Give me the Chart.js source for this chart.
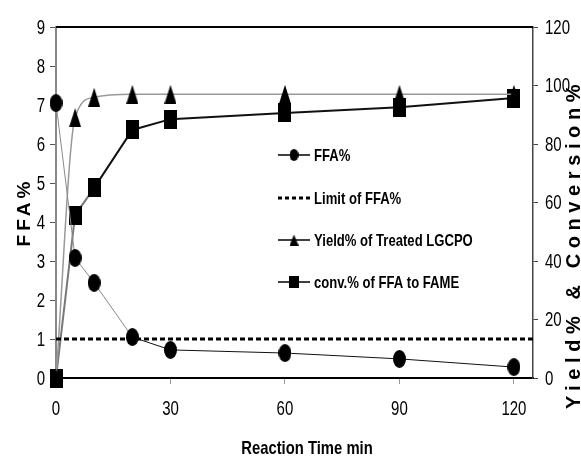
<!DOCTYPE html>
<html>
<head>
<meta charset="utf-8">
<script src="https://cdn.jsdelivr.net/npm/chart.js@4"></script>
<style>
  html, body { margin: 0; padding: 0; background: #fff; }
  #wrap { width: 581px; height: 461px; }
</style>
</head>
<body>
<div id="wrap"><canvas id="myChart" width="581" height="461"></canvas></div>
<script>
// data
const times = [0, 5, 10, 20, 30, 60, 90, 120];
const ffa = [7.05, 3.08, 2.44, 1.05, 0.72, 0.64, 0.49, 0.28];
const yieldPct = [0, 89, 96, 97, 97, 97, 97, 97];
const conv = [0, 55.7, 65, 84.8, 88.5, 90.6, 92.6, 95.7];
const limitTimes = [0, 125];
const limitFfa = [1, 1];
const xTicks = [0, 30, 60, 90, 120];
const legendLabels = ["FFA%", "Limit of FFA%", "Yield% of Treated LGCPO", "conv.% of FFA to FAME"];

const FONT = '"Liberation Sans", Arial, sans-serif';

const pts = (xs, ys) => xs.map((x, i) => ({ x: x, y: ys[i] }));

// marker images (the figure is squeezed sideways, so shapes are tall)
const marker = (shape, w, h) => {
  const c = document.createElement("canvas");
  c.width = w;
  c.height = h;
  const g = c.getContext("2d");
  g.fillStyle = "#000";
  g.beginPath();
  if (shape === "ellipse") {
    g.ellipse(w / 2, h / 2, w / 2, h / 2, 0, 0, Math.PI * 2);
  } else if (shape === "tri") {
    g.moveTo(w / 2, 0);
    g.lineTo(w, h);
    g.lineTo(0, h);
    g.closePath();
  } else {
    g.rect(0, 0, w, h);
  }
  g.fill();
  return c;
};

const dot = marker("ellipse", 13, 18);
const tri = marker("tri", 12, 19);
const sq = marker("rect", 13, 19);
const dotS = marker("ellipse", 9, 12);
const triS = marker("tri", 9, 11);
const sqS = marker("rect", 10, 12);

// no narrow font installed, so squeeze the text by hand
const squeezed = (g, text, x, y, sx) => {
  g.save();
  g.translate(x, y);
  g.scale(sx, 1);
  g.fillText(text, 0, 0);
  g.restore();
};

const ctx = document.querySelector("#myChart").getContext("2d");

//tick labels, titles, legend and frame
const extras = {
  id: "extras",
  afterDraw(chart) {
    const g = chart.ctx;
    const a = chart.chartArea;
    const sx = chart.scales.x;
    const sy = chart.scales.y;
    const sy2 = chart.scales.y2;
    g.save();
    g.strokeStyle = "#000";
    g.lineWidth = 2;
    g.beginPath();
    g.moveTo(a.left, a.top);
    g.lineTo(a.right, a.top);
    g.stroke();

    g.fillStyle = "#000";
    g.textBaseline = "middle";

    // tick labels
    g.font = "20px " + FONT;
    g.textAlign = "center";
    sx.ticks.forEach((t) => {
      squeezed(g, String(t.value), sx.getPixelForValue(t.value), 409, 0.75);
    });
    g.textAlign = "right";
    sy.ticks.forEach((t) => {
      squeezed(g, String(t.value), 45, sy.getPixelForValue(t.value) + 1, 0.75);
    });
    g.textAlign = "left";
    sy2.ticks.forEach((t) => {
      squeezed(g, String(t.value), 545, sy2.getPixelForValue(t.value) + 1, 0.75);
    });

    g.textAlign = "center";
    // left title
    g.save();
    g.translate(25, 214);
    g.rotate(-Math.PI / 2);
    g.font = "bold 19px " + FONT;
    g.letterSpacing = "4px";
    g.fillText("FFA%", 2, 0);
    g.restore();

    // right title
    g.save();
    g.translate(574, 247);
    g.rotate(-Math.PI / 2);
    g.font = "bold 20px " + FONT;
    g.letterSpacing = "5.6px";
    g.fillText("Yield% & Conversion%", 3, 0);
    g.restore();

    // x title
    g.font = "bold 19px " + FONT;
    squeezed(g, "Reaction Time min", 307, 449, 0.78);

    // legend
    const rows = [155, 198, 240, 282];
    const imgs = [dotS, null, triS, sqS];
    g.textAlign = "left";
    g.font = "bold 17px " + FONT;
    legendLabels.forEach((txt, i) => {
      const y = rows[i];
      g.beginPath();
      if (imgs[i]) {
        g.setLineDash([]);
        g.lineWidth = 1.5;
      } else {
        g.setLineDash([4, 3]);
        g.lineWidth = 3;
      }
      g.moveTo(278, y);
      g.lineTo(310, y);
      g.stroke();
      if (imgs[i]) {
        g.drawImage(imgs[i], 294 - imgs[i].width / 2, y - imgs[i].height / 2);
      }
      squeezed(g, txt, 314, y + 1, 0.77);
    });
    g.restore();
  },
};

const data = {
  datasets: [
    {
      label: legendLabels[1],
      data: pts(limitTimes, limitFfa),
      yAxisID: "y",
      borderColor: "#000",
      borderWidth: 3,
      borderDash: [5, 3],
      pointRadius: 0,
      order: 1,
    },
    {
      label: legendLabels[0],
      data: pts(times, ffa),
      yAxisID: "y",
      borderColor: "#111",
      borderWidth: 1,
      segment: {
        borderColor: (c) => (c.p1.parsed.x <= 20 ? "#8a8a8a" : "#111"),
      },
      pointStyle: dot,
      clip: false,
      order: 2,
    },
    {
      label: legendLabels[2],
      data: pts(times, yieldPct),
      yAxisID: "y2",
      borderColor: "#999",
      borderWidth: 1.5,
      cubicInterpolationMode: "monotone",
      pointStyle: tri,
      clip: false,
      order: 3,
    },
    {
      label: legendLabels[3],
      data: pts(times, conv),
      yAxisID: "y2",
      borderColor: "#111",
      borderWidth: 2,
      segment: {
        borderColor: (c) => (c.p1.parsed.x <= 10 ? "#777" : "#111"),
      },
      pointStyle: sq,
      clip: false,
      order: 4,
    },
  ],
};

const config = {
  type: "line",
  data: data,
  plugins: [extras],
  options: {
    responsive: false,
    animation: false,
    layout: { padding: { top: 27 } },
    scales: {
      x: {
        type: "linear",
        min: 0,
        max: 125,
        afterBuildTicks: (s) => {
          s.ticks = xTicks.map((v) => ({ value: v }));
        },
        afterFit: (s) => {
          s.height = 83;
        },
        border: { color: "#000", width: 2 },
        grid: {
          drawOnChartArea: false,
          tickLength: 6,
          color: "#999",
        },
        ticks: { display: false },
      },
      y: {
        position: "left",
        min: 0,
        max: 9,
        afterFit: (s) => {
          s.width = 56;
        },
        border: { color: "#888", width: 2 },
        grid: {
          drawOnChartArea: false,
          tickLength: 6,
          color: "#555",
        },
        ticks: { display: false, stepSize: 1 },
      },
      y2: {
        position: "right",
        min: 0,
        max: 120,
        afterFit: (s) => {
          s.width = 48;
        },
        border: { color: "#444", width: 1.5 },
        grid: {
          drawOnChartArea: false,
          tickLength: 5,
          color: "#444",
        },
        ticks: { display: false, stepSize: 20 },
      },
    },
    plugins: {
      legend: { display: false },
      tooltip: { enabled: false },
    },
  },
};

const myChart = new Chart(ctx, config);
</script>
</body>
</html>
